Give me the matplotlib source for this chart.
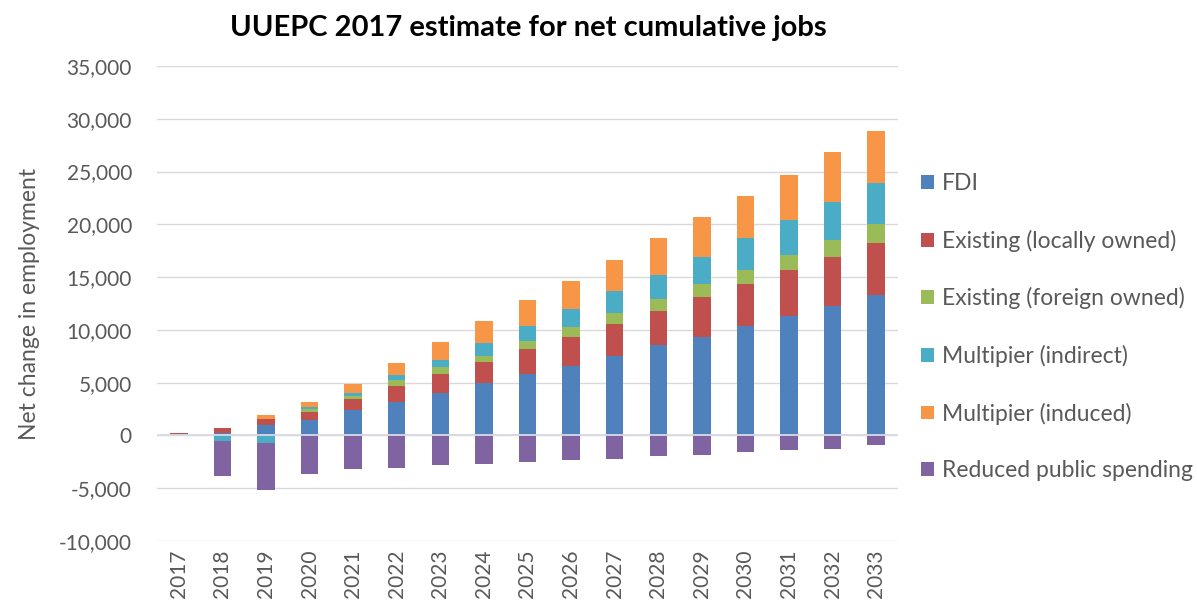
#!/usr/bin/env python3

import numpy as np
import matplotlib
matplotlib.use("Agg")
import matplotlib.pyplot as plt
from matplotlib.patches import Patch
from matplotlib.ticker import FuncFormatter

# --- Data ---
years = [str(y) for y in range(2017, 2034)]

fdi = [100, 200, 950, 1430, 2410, 3170, 4000, 4950, 5810, 6600, 7490,
       8570, 9300, 10350, 11300, 12250, 13260]
existing_local = [100, 500, 570, 830, 1080, 1470, 1810, 1970, 2380, 2760,
                  3080, 3260, 3810, 4030, 4340, 4670, 4990]
existing_foreign = [0, 0, 0, 250, 270, 570, 630, 630, 790, 890, 1040,
                    1050, 1270, 1260, 1430, 1580, 1740]
multiplier_indirect = [0, -530, -750, 200, 300, 500, 730, 1210, 1370, 1720,
                       2030, 2290, 2540, 3020, 3330, 3590, 3970]
multiplier_induced = [0, 50, 380, 500, 860, 1150, 1710, 2060, 2440, 2660,
                      3020, 3490, 3750, 4030, 4290, 4730, 4860]
reduced_spending = [0, -3300, -4400, -3650, -3170, -3070, -2760, -2670,
                    -2500, -2350, -2220, -1970, -1810, -1550, -1400, -1240, -920]

series_names = ["FDI", "Existing (locally owned)", "Existing (foreign owned)",
                "Multipier (indirect)", "Multipier (induced)",
                "Reduced public spending"]
series_values = [fdi, existing_local, existing_foreign, multiplier_indirect,
                 multiplier_induced, reduced_spending]
colors = ["#4F81BD", "#C0504D", "#9BBB59", "#4BACC6", "#F79646", "#8064A2"]

FONT = ["Lato", "DejaVu Sans"]
GREY = "#595959"

plt.rcParams["font.family"] = FONT

fig = plt.figure(figsize=(11.97, 6.12), dpi=100)
ax = fig.add_axes([157 / 1197, 1 - 541 / 612, (898 - 157) / 1197, (541 - 66) / 612])

x = np.arange(len(years))
pos_bottom = np.zeros(len(years))
neg_bottom = np.zeros(len(years))

# Excel style stacking: positives up from zero, negatives down from zero
for name, vals, col in zip(series_names, series_values, colors):
    vals = np.array(vals, dtype=float)
    pos = np.where(vals > 0, vals, 0)
    neg = np.where(vals < 0, vals, 0)
    ax.bar(x, pos, 0.4, bottom=pos_bottom, color=col, zorder=2)
    ax.bar(x, neg, 0.4, bottom=neg_bottom, color=col, zorder=2)
    pos_bottom += pos
    neg_bottom += neg

ax.axhline(0, color="#d9d9e6", lw=1.3, zorder=3)

ax.set_xlim(-0.5, len(years) - 0.5)
ax.set_ylim(-10000, 35000)
ax.set_yticks(np.arange(-10000, 35001, 5000))
ax.yaxis.set_major_formatter(FuncFormatter(lambda v, p: f"{int(v):,}"))
ax.set_xticks(x)
ax.set_xticklabels(years, rotation=90)
ax.tick_params(axis="both", length=0, colors=GREY, labelsize=15)
ax.tick_params(axis="y", pad=18)
ax.tick_params(axis="x", pad=6)
ax.grid(axis="y", color="#d9d9d9", lw=1, zorder=0)
ax.set_axisbelow(True)
for s in ax.spines.values():
    s.set_visible(False)

ax.set_ylabel("Net change in employment", fontsize=16.5, color=GREY, labelpad=14)

fig.text(528 / 1197, 1 - 28 / 612, "UUEPC 2017 estimate for net cumulative jobs",
         ha="center", va="center", fontsize=21, fontweight="bold", color="black")

handles = [Patch(facecolor=c, edgecolor="none") for c in colors]
fig.legend(handles, series_names, loc="upper left",
           bbox_to_anchor=(912 / 1197, 1 - 164 / 612), frameon=False,
           fontsize=16.5, labelcolor=GREY, handlelength=0.55, handleheight=0.55,
           handletextpad=0.35, labelspacing=1.55, borderaxespad=0)

fig.savefig("out.png", dpi=100)
